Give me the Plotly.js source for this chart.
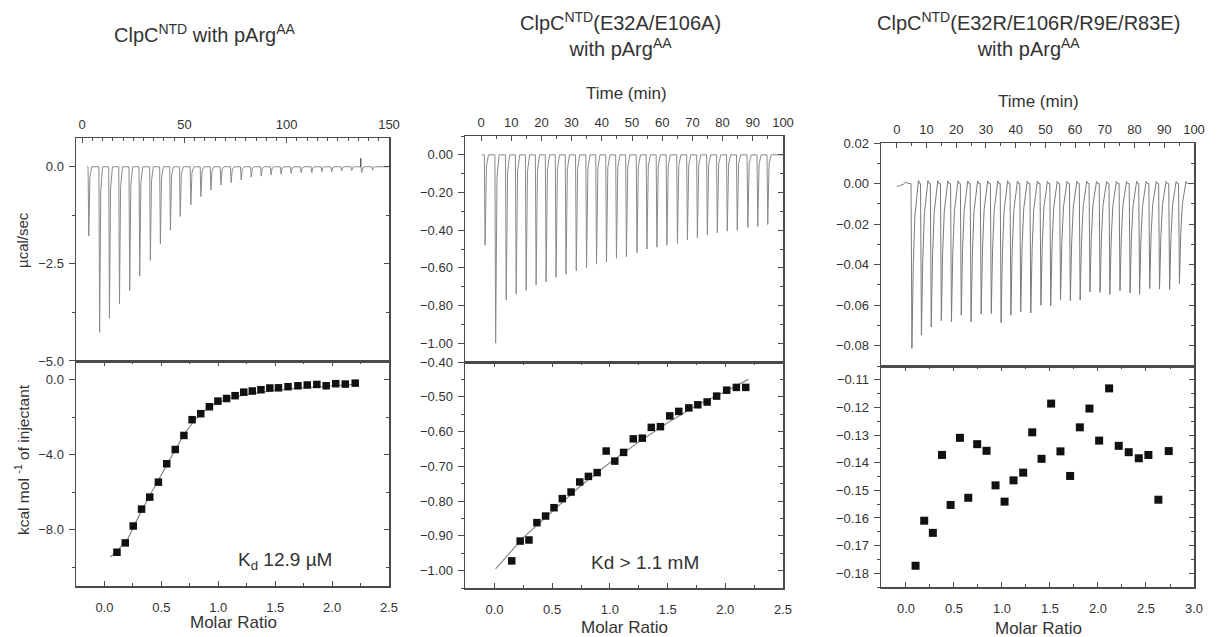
<!DOCTYPE html>
<html>
<head>
<meta charset="utf-8">
<script src="https://cdn.plot.ly/plotly-3.0.1.min.js"></script>
<style>html,body{margin:0;padding:0;background:#fff;}#chart{width:1218px;height:637px;}</style>
</head>
<body>
<div id="chart"></div>
<script>
// ---------------- DATA ----------------
// Panel 1: ClpC NTD with pArgAA
const p1InjTime = [2.9, 8.2, 13.0, 17.9, 22.9, 27.8, 33.0, 37.9, 42.8, 47.6, 52.8, 57.7, 62.6, 67.5, 72.5, 77.4, 82.3, 87.2, 92.0, 96.9, 101.8, 106.7, 111.9, 116.8, 121.6, 126.5, 131.4, 136.3, 141.6];
const p1InjPeak = [-1.78, -4.26, -3.90, -3.53, -3.19, -2.81, -2.41, -1.99, -1.63, -1.28, -0.98, -0.77, -0.60, -0.47, -0.41, -0.34, -0.27, -0.24, -0.21, -0.19, -0.17, -0.15, -0.15, -0.13, -0.13, -0.11, -0.10, -0.15, -0.09];
const p1ArtifactT = [136.1, 136.2, 136.3];
const p1ArtifactY = [0, 0.22, 0];
const p1Ratio = [0.110, 0.183, 0.253, 0.326, 0.398, 0.474, 0.547, 0.622, 0.698, 0.770, 0.846, 0.922, 0.997, 1.073, 1.148, 1.224, 1.299, 1.375, 1.453, 1.529, 1.613, 1.700, 1.782, 1.866, 1.948, 2.032, 2.116, 2.203];
const p1Heat = [-9.2, -8.7, -7.8, -6.9, -6.26, -5.46, -4.48, -3.72, -2.97, -2.13, -1.81, -1.44, -1.14, -1.0, -0.85, -0.66, -0.60, -0.53, -0.44, -0.43, -0.37, -0.32, -0.28, -0.25, -0.32, -0.21, -0.23, -0.18];
const p1FitX = [0.05, 0.1, 0.2, 0.3, 0.4, 0.5, 0.6, 0.7, 0.8, 0.9, 1.0, 1.1, 1.2, 1.4, 1.6, 1.8, 2.0, 2.2];
const p1FitY = [-9.45, -9.2, -8.55, -7.3, -6.15, -5.05, -3.95, -2.9, -2.1, -1.55, -1.2, -1.0, -0.85, -0.65, -0.5, -0.4, -0.32, -0.25];

// Panel 2: ClpC NTD (E32A/E106A) with pArgAA
const p2InjTime = [1.1, 4.6, 8.1, 11.4, 14.7, 18.0, 21.3, 24.6, 27.9, 31.3, 34.7, 38.0, 41.3, 44.6, 47.9, 51.4, 54.7, 58.0, 61.3, 64.8, 68.1, 71.4, 74.7, 78.0, 81.3, 84.6, 88.1, 91.4, 94.7];
const p2InjPeak = [-0.48, -1.00, -0.77, -0.74, -0.72, -0.69, -0.675, -0.65, -0.634, -0.616, -0.60, -0.58, -0.57, -0.55, -0.54, -0.52, -0.50, -0.49, -0.48, -0.47, -0.45, -0.44, -0.425, -0.415, -0.405, -0.40, -0.385, -0.38, -0.37];
const p2Ratio = [0.150, 0.223, 0.299, 0.368, 0.443, 0.516, 0.588, 0.664, 0.739, 0.814, 0.890, 0.968, 1.043, 1.119, 1.203, 1.281, 1.359, 1.438, 1.519, 1.597, 1.684, 1.762, 1.843, 1.925, 2.012, 2.096, 2.177];
const p2Heat = [-0.972, -0.915, -0.912, -0.862, -0.843, -0.819, -0.793, -0.774, -0.745, -0.729, -0.718, -0.656, -0.685, -0.660, -0.621, -0.619, -0.588, -0.586, -0.555, -0.542, -0.532, -0.523, -0.515, -0.498, -0.481, -0.473, -0.473];
const p2FitX = [0.01, 0.25, 0.5, 0.75, 1.0, 1.25, 1.5, 1.75, 2.0, 2.2];
const p2FitY = [-0.995, -0.905, -0.83, -0.755, -0.69, -0.63, -0.575, -0.525, -0.485, -0.45];

// Panel 3: ClpC NTD (E32R/E106R/R9E/R83E) with pArgAA
const p3NoiseT = [0.0, 0.5, 1.0, 1.5, 2.0, 2.5, 3.0, 3.5, 4.2];
const p3NoiseY = [-0.0015, -0.0010, -0.0013, -0.0005, -0.0008, 0.0003, 0.0009, 0.0002, 0.0];
const p3InjTime = [4.8, 8.0, 11.3, 14.7, 18.1, 21.4, 24.7, 28.1, 31.5, 34.8, 38.1, 41.4, 44.8, 48.2, 51.5, 54.8, 58.1, 61.4, 64.7, 68.1, 71.4, 74.8, 78.2, 81.4, 84.8, 88.1, 91.5, 94.8];
const p3InjPeak = [-0.0813, -0.0748, -0.0707, -0.0677, -0.0682, -0.0649, -0.0682, -0.0644, -0.0641, -0.0687, -0.0649, -0.0633, -0.0638, -0.0600, -0.0603, -0.0572, -0.0578, -0.0575, -0.0534, -0.0537, -0.0547, -0.0529, -0.0539, -0.0546, -0.0518, -0.0521, -0.0523, -0.0493];
const p3Ratio = [0.10, 0.19, 0.28, 0.375, 0.465, 0.562, 0.649, 0.742, 0.839, 0.933, 1.027, 1.12, 1.221, 1.315, 1.412, 1.512, 1.609, 1.71, 1.811, 1.911, 2.012, 2.116, 2.216, 2.32, 2.425, 2.525, 2.629, 2.737];
const p3Heat = [-0.1773, -0.161, -0.1654, -0.1372, -0.1553, -0.131, -0.1527, -0.1333, -0.1357, -0.1482, -0.1541, -0.1464, -0.1436, -0.129, -0.1386, -0.1186, -0.1359, -0.1448, -0.1272, -0.1204, -0.132, -0.1131, -0.1339, -0.1362, -0.1384, -0.1372, -0.1534, -0.1358];

// ---------------- LAYOUT / STYLE ----------------
const W = 1218, H = 637;
const FONT = 'Liberation Sans, Arial, sans-serif';
const TXT = '#333';
const AX = '#4a4a4a';
const fx = p => p / W;
const fy = p => 1 - p / H;
const P = [
  {x0: 76,  x1: 389,  yt: 138, ym: 361, yb: 586},
  {x0: 465, x1: 783,  yt: 136, ym: 362, yb: 588},
  {x0: 881, x1: 1194, yt: 143, ym: 366, yb: 587}
];

// spike shape profiles (style of the raw thermogram peaks)
function spikes(times, peaks, offs, fracs, t0, t1, preT, preY) {
  const x = preT ? preT.slice() : [t0];
  const y = preY ? preY.slice() : [0];
  times.forEach((t, i) => {
    offs.forEach((o, j) => { x.push(t + o); y.push(peaks[i] * fracs[j]); });
  });
  x.push(t1); y.push(0);
  return {x, y};
}
const s1 = spikes(p1InjTime, p1InjPeak, [0, 0.35, 0.9, 1.8], [0, 1, 0.15, 0], 2.4, 150);
const s2 = spikes(p2InjTime, p2InjPeak, [0, 0.25, 0.7, 1.4], [0, 1, 0.12, 0], 0.3, 100);
const s3 = spikes(p3InjTime, p3InjPeak, [0, 0.3, 0.75, 1.3, 2.0, 2.5, 2.9], [0, 1, 0.5, 0.2, 0.06, -0.02, 0], 0, 100, p3NoiseT, p3NoiseY);

const spikeLine = {color: '#8a8a8a', width: 1};
const fitLine = {color: '#8a8a8a', width: 1.2};
const sq = {symbol: 'square', size: 7.5, color: '#111'};

const data = [
  {x: s1.x, y: s1.y, xaxis: 'x', yaxis: 'y', mode: 'lines', line: spikeLine, hoverinfo: 'skip'},
  {x: p1ArtifactT, y: p1ArtifactY, xaxis: 'x', yaxis: 'y', mode: 'lines', line: {color: '#555', width: 1}, hoverinfo: 'skip'},
  {x: p1FitX, y: p1FitY, xaxis: 'x2', yaxis: 'y2', mode: 'lines', line: fitLine},
  {x: p1Ratio, y: p1Heat, xaxis: 'x2', yaxis: 'y2', mode: 'markers', marker: sq},
  {x: s2.x, y: s2.y, xaxis: 'x3', yaxis: 'y3', mode: 'lines', line: spikeLine, hoverinfo: 'skip'},
  {x: p2FitX, y: p2FitY, xaxis: 'x4', yaxis: 'y4', mode: 'lines', line: fitLine},
  {x: p2Ratio, y: p2Heat, xaxis: 'x4', yaxis: 'y4', mode: 'markers', marker: sq},
  {x: s3.x, y: s3.y, xaxis: 'x5', yaxis: 'y5', mode: 'lines', line: {color: '#7a7a7a', width: 1}, hoverinfo: 'skip'},
  {x: p3Ratio, y: p3Heat, xaxis: 'x6', yaxis: 'y6', mode: 'markers', marker: {symbol: 'square', size: 8, color: '#111'}}
];
// dummy traces so the right-hand mirrored tick axes are drawn
for (let k = 1; k <= 6; k++) {
  data.push({x: [null], y: [null], xaxis: k === 1 ? 'x' : 'x' + k, yaxis: 'y' + (k + 6), mode: 'markers', hoverinfo: 'skip', showlegend: false});
}

const tickFont = {family: FONT, size: 13, color: TXT};
function timeAx(p, anchor, range, dtick) {
  return {domain: [fx(p.x0), fx(p.x1)], anchor: anchor, side: 'top', range: range, dtick: dtick, tick0: 0,
    ticks: 'inside', ticklen: 5, tickwidth: 1, tickcolor: AX, showline: true, linecolor: AX, linewidth: 1.5,
    mirror: true, showgrid: false, zeroline: false, tickfont: tickFont, ticklabelstandoff: 2,
    minor: {dtick: 5, ticks: 'inside', ticklen: 3, tickcolor: AX, showgrid: false}};
}
function ratioAx(p, anchor, range) {
  return {domain: [fx(p.x0), fx(p.x1)], anchor: anchor, side: 'bottom', range: range, dtick: 0.5, tick0: 0,
    tickformat: '.1f', ticks: 'inside', ticklen: 5, tickwidth: 1, tickcolor: AX, showline: true, linecolor: AX,
    linewidth: 1.5, mirror: 'ticks', showgrid: false, zeroline: false, tickfont: tickFont, ticklabelstandoff: 9,
    minor: {dtick: 0.25, ticks: 'inside', ticklen: 3, tickcolor: AX, showgrid: false}};
}
function leftAx(top, bot, anchor, range, dtick, minorDt, fmt) {
  return {domain: [fy(bot), fy(top)], anchor: anchor, range: range, dtick: dtick, tick0: 0, tickformat: fmt,
    ticks: 'outside', ticklen: 6, tickwidth: 1, tickcolor: AX, showline: true, linecolor: AX, linewidth: 1.5,
    mirror: false, showgrid: false, zeroline: false, tickfont: tickFont, ticklabelstandoff: 2,
    minor: {dtick: minorDt, ticks: 'outside', ticklen: 3, tickcolor: AX, showgrid: false}};
}
function rightAx(over, anchor, range, dtick, minorDt) {
  return {overlaying: over, anchor: anchor, side: 'right', range: range, dtick: dtick, tick0: 0,
    ticks: 'inside', ticklen: 5, tickwidth: 1, tickcolor: AX, showline: true, linecolor: AX, linewidth: 1.5,
    showticklabels: false, showgrid: false, zeroline: false,
    minor: {dtick: minorDt, ticks: 'inside', ticklen: 3, tickcolor: AX, showgrid: false}};
}

const r1t = [-5.0005, 0.74], r1b = [-11, 1];
const r2t = [-1.1, 0.1], r2b = [-1.05, -0.39995];
const r3t = [-0.09, 0.02001], r3b = [-0.185, -0.105];

const layout = {
  width: W, height: H, margin: {l: 0, r: 0, t: 0, b: 0}, showlegend: false,
  paper_bgcolor: '#fff', plot_bgcolor: 'rgba(0,0,0,0)', font: {family: FONT, color: TXT},
  xaxis: timeAx(P[0], 'y', [-3, 150], 50),
  yaxis: leftAx(P[0].yt, P[0].ym, 'x', r1t, 2.5, 1.25, '.1f'),
  xaxis2: ratioAx(P[0], 'y2', [-0.25, 2.5]),
  yaxis2: leftAx(P[0].ym, P[0].yb, 'x2', r1b, 4, 2, '.1f'),
  xaxis3: timeAx(P[1], 'y3', [-5.3, 100], 10),
  yaxis3: leftAx(P[1].yt, P[1].ym, 'x3', r2t, 0.2, 0.1, '.2f'),
  xaxis4: ratioAx(P[1], 'y4', [-0.255, 2.5]),
  yaxis4: leftAx(P[1].ym, P[1].yb, 'x4', r2b, 0.1, 0.05, '.2f'),
  xaxis5: timeAx(P[2], 'y5', [-5.3, 100], 10),
  yaxis5: leftAx(P[2].yt, P[2].ym, 'x5', r3t, 0.02, 0.01, '.2f'),
  xaxis6: ratioAx(P[2], 'y6', [-0.26, 3.0]),
  yaxis6: leftAx(P[2].ym, P[2].yb, 'x6', r3b, 0.01, 0.005, '.2f'),
  yaxis7: rightAx('y', 'x', r1t, 2.5, 1.25),
  yaxis8: rightAx('y2', 'x2', r1b, 4, 2),
  yaxis9: rightAx('y3', 'x3', r2t, 0.2, 0.1),
  yaxis10: rightAx('y4', 'x4', r2b, 0.1, 0.05),
  yaxis11: rightAx('y5', 'x5', r3t, 0.02, 0.01),
  yaxis12: rightAx('y6', 'x6', r3b, 0.01, 0.005),
  annotations: [
    {text: 'ClpC<sup>NTD</sup> with pArg<sup>AA</sup>', x: fx(205), y: fy(33), size: 20},
    {text: 'ClpC<sup>NTD</sup>(E32A/E106A)<br>with pArg<sup>AA</sup>', x: fx(620), y: fy(34), size: 20},
    {text: 'ClpC<sup>NTD</sup>(E32R/E106R/R9E/R83E)<br>with pArg<sup>AA</sup>', x: fx(1028), y: fy(34), size: 20},
    {text: 'Time (min)', x: fx(626), y: fy(94), size: 17},
    {text: 'Time (min)', x: fx(1038), y: fy(101), size: 17},
    {text: 'Molar Ratio', x: fx(234), y: fy(622), size: 17},
    {text: 'Molar Ratio', x: fx(624), y: fy(627), size: 17},
    {text: 'Molar Ratio', x: fx(1038), y: fy(628), size: 17},
    {text: 'µcal/sec', x: fx(22), y: fy(240), size: 15, angle: -90},
    {text: 'kcal mol <sup>-1</sup> of injectant', x: fx(22), y: fy(460), size: 15.5, angle: -90},
    {text: 'K<sub>d</sub> 12.9 µM', x: fx(285), y: fy(561), size: 19},
    {text: 'Kd &gt; 1.1 mM', x: fx(645), y: fy(562), size: 19}
  ].map(a => ({text: a.text, x: a.x, y: a.y, xref: 'paper', yref: 'paper', xanchor: 'center', yanchor: 'middle',
    showarrow: false, textangle: a.angle || 0, font: {family: FONT, size: a.size, color: TXT}}))
};

Plotly.newPlot('chart', data, layout, {staticPlot: true, displayModeBar: false});
</script>
</body>
</html>
